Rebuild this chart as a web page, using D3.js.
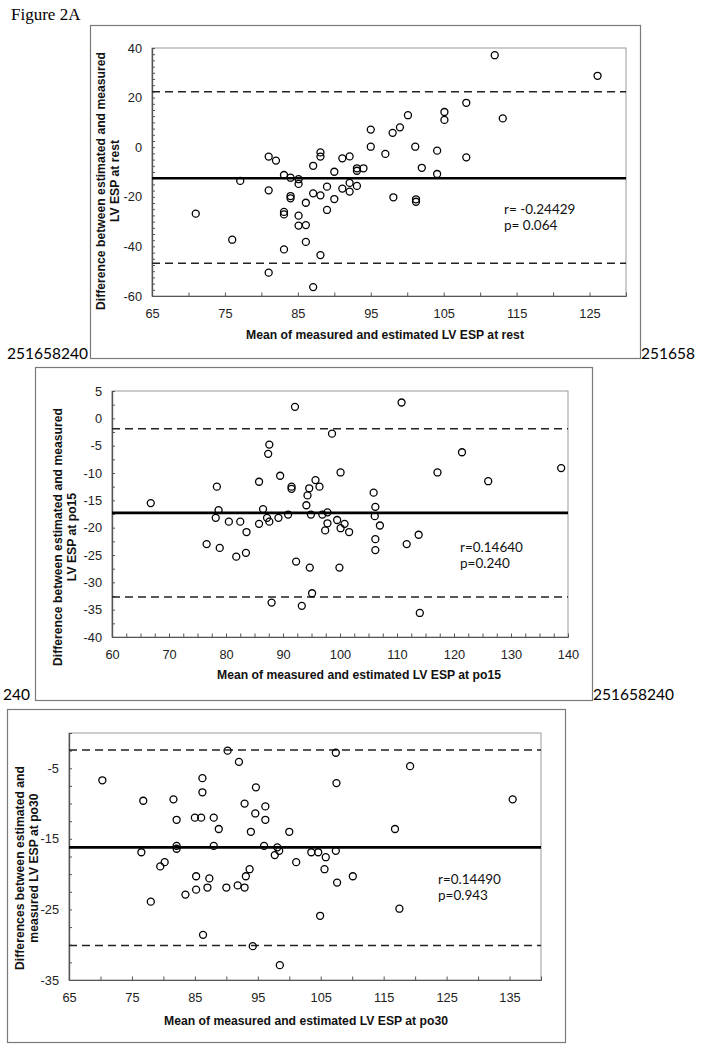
<!DOCTYPE html>
<html><head><meta charset="utf-8">
<script src="https://cdn.jsdelivr.net/npm/d3@7"></script>
<style>body{margin:0;background:#fff} svg{display:block}</style>
</head><body>
<svg id="c" width="711" height="1050"></svg>
<script>
// ---------- DATA ----------
// Panel A: at rest
const restX = [71.0,76.0,77.1,81.0,81.0,81.0,82.0,83.1,83.1,83.1,83.1,84.0,84.0,84.0,85.1,85.1,85.1,85.1,86.1,86.1,86.1,87.1,87.1,87.1,88.1,88.1,88.1,88.1,89.0,89.0,90.0,90.0,91.1,91.1,92.1,92.1,92.1,93.1,93.1,93.1,94.0,95.0,95.0,97.0,98.0,98.1,99.0,100.1,101.1,101.2,101.2,102.0,104.1,104.1,105.1,105.1,108.1,108.1,112.0,113.1,126.1];
const restY = [-26.8,-37.3,-13.6,-3.8,-17.4,-50.6,-5.4,-11.2,-26.1,-27.1,-41.2,-12.3,-19.7,-20.6,-12.9,-14.8,-27.6,-31.6,-22.4,-31.4,-38.2,-7.5,-18.6,-56.4,-2.1,-3.8,-19.4,-43.5,-15.9,-25.3,-9.9,-20.9,-4.5,-16.7,-3.7,-14.4,-17.9,-8.5,-9.5,-15.6,-8.5,7.1,0.2,-2.7,5.8,-20.2,8.0,12.9,0.2,-21.0,-22.0,-8.3,-1.4,-10.8,14.2,11.0,17.9,-4.1,37.1,11.6,28.8];
const restMean = -12.5, restUpper = 22.4, restLower = -46.8;
const restStats = ["r= -0.24429", "p= 0.064"];

// Panel B: po15
const po15X = [66.8,76.6,78.4,78.2,78.7,78.9,80.5,81.8,82.5,83.5,83.6,85.8,85.8,86.5,87.2,87.6,87.4,87.6,89.2,89.5,90.9,91.5,91.5,92.1,92.3,94.1,94.3,94.6,94.9,95.7,96.4,96.9,97.4,97.8,97.8,98.6,99.5,100.1,100.1,100.8,101.6,94.7,99.9,88.0,93.3,95.1,110.8,121.4,117.1,126.0,138.8,105.9,106.2,106.1,107.0,106.2,106.2,111.7,113.8,114.0];
const po15Y = [-15.5,-23.0,-12.5,-18.2,-16.8,-23.7,-18.9,-25.3,-18.9,-24.6,-20.8,-11.6,-19.3,-16.6,-18.2,-18.9,-6.5,-4.8,-18.2,-10.5,-17.6,-12.5,-12.9,2.1,-26.2,-15.9,-14.1,-12.8,-17.6,-11.3,-12.5,-17.6,-20.5,-17.2,-19.2,-2.8,-18.6,-20.1,-9.9,-19.3,-20.8,-27.3,-27.3,-33.7,-34.3,-32.0,2.9,-6.2,-9.9,-11.5,-9.1,-13.6,-16.2,-17.9,-19.6,-22.1,-24.1,-23.0,-21.3,-35.6];
const po15Mean = -17.3, po15Upper = -1.9, po15Lower = -32.7;
const po15Stats = ["r=0.14640", "p=0.240"];

// Panel C: po30
const po30X = [70.3,76.8,76.5,79.5,80.2,81.6,82.1,82.1,82.1,85.0,86.0,86.2,86.2,88.0,88.8,88.0,85.2,85.2,83.5,87.3,87.0,90.2,92.0,90.0,92.9,94.7,94.6,93.9,96.2,96.2,96.0,91.8,92.9,93.1,93.7,98.1,98.4,97.7,100.0,101.1,103.5,104.6,105.8,105.6,107.4,107.5,107.4,107.6,110.1,78.0,86.3,94.2,98.5,104.9,117.5,119.2,135.5,116.8];
const po30Y = [-6.7,-9.6,-16.9,-18.9,-18.3,-9.4,-12.3,-16.0,-16.4,-12.0,-12.0,-6.4,-8.4,-12.0,-13.6,-16.0,-20.3,-22.2,-22.9,-20.6,-21.9,-2.5,-4.1,-21.9,-10.0,-7.7,-11.4,-14.0,-10.4,-12.3,-16.0,-21.6,-21.9,-20.3,-19.3,-16.2,-16.7,-17.3,-14.0,-18.3,-16.9,-16.9,-17.6,-19.3,-2.8,-7.1,-16.7,-21.2,-20.3,-23.9,-28.6,-30.2,-32.9,-25.9,-24.9,-4.7,-9.4,-13.6];
const po30Mean = -16.2, po30Upper = -2.4, po30Lower = -30.1;
const po30Stats = ["r=0.14490", "p=0.943"];

// Tick labels
const restXTicks = [65,75,85,95,105,115,125];
const restYTicks = [-60,-40,-20,0,20,40];
const po15XTicks = [60,70,80,90,100,110,120,130,140];
const po15YTicks = [-40,-35,-30,-25,-20,-15,-10,-5,0,5];
const po30XTicks = [65,75,85,95,105,115,125,135];
const po30YTicks = [-35,-25,-15,-5];

// Axis titles
const restXTitle = "Mean of measured and estimated LV ESP at rest";
const restYTitle = ["Difference between estimated and measured", "LV ESP at rest"];
const po15XTitle = "Mean of measured and estimated LV ESP at po15";
const po15YTitle = ["Difference between estimated and measured", "LV ESP at po15"];
const po30XTitle = "Mean of measured and estimated LV ESP at po30";
const po30YTitle = ["Differences between estimated and", "measured LV ESP at po30"];

// ---------- LAYOUT ----------
const svg = d3.select("#c");
const panels = [
  {xs: restX, ys: restY, mean: restMean, up: restUpper, lo: restLower, stats: restStats,
   xT: restXTicks, yT: restYTicks, xTitle: restXTitle, yTitle: restYTitle,
   box: [90, 25, 640, 358], plot: [152, 48, 626, 296], xDom: [65, 130], yDom: [-60, 40],
   xMinor: 5, yMinor: 2.5, statPos: [504, 214], xTitlePos: [385, 339], yTitlePos: [101, 181]},
  {xs: po15X, ys: po15Y, mean: po15Mean, up: po15Upper, lo: po15Lower, stats: po15Stats,
   xT: po15XTicks, yT: po15YTicks, xTitle: po15XTitle, yTitle: po15YTitle,
   box: [35, 367, 592, 700], plot: [112, 391, 568, 637], xDom: [60, 140], yDom: [-40, 5],
   xMinor: 2.5, yMinor: 2.5, statPos: [460, 552], xTitlePos: [359, 679], yTitlePos: [58, 537]},
  {xs: po30X, ys: po30Y, mean: po30Mean, up: po30Upper, lo: po30Lower, stats: po30Stats,
   xT: po30XTicks, yT: po30YTicks, xTitle: po30XTitle, yTitle: po30YTitle,
   box: [7, 709, 565, 1042], plot: [69, 733, 541, 980], xDom: [65, 140], yDom: [-35, 0],
   xMinor: 5, yMinor: 2.5, statPos: [438, 884], xTitlePos: [306, 1025], yTitlePos: [20, 868]}
];

function range(a, b, s) { const r = []; for (let v = a; v <= b + 1e-9; v += s) r.push(+v.toFixed(4)); return r; }

panels.forEach(p => {
  const [bx0, by0, bx1, by1] = p.box;
  svg.append("rect").attr("x", bx0 + 0.5).attr("y", by0 + 0.5)
    .attr("width", bx1 - bx0).attr("height", by1 - by0)
    .attr("fill", "none").attr("stroke", "#7a7a7a").attr("stroke-width", 1.2);

  const [l, t, r, b] = p.plot;
  const x = d3.scaleLinear().domain(p.xDom).range([l, r]);
  const y = d3.scaleLinear().domain(p.yDom).range([b, t]);

  // plot frame
  svg.append("rect").attr("x", l).attr("y", t).attr("width", r - l).attr("height", b - t)
    .attr("fill", "none").attr("stroke", "#9a9a9a").attr("stroke-width", 1);

  // minor ticks
  const gxm = svg.append("g").attr("transform", `translate(0,${b})`)
    .call(d3.axisBottom(x).tickValues(range(p.xDom[0], p.xDom[1], p.xMinor)).tickSizeInner(-3.5).tickSizeOuter(0).tickFormat(""));
  const gym = svg.append("g").attr("transform", `translate(${l},0)`)
    .call(d3.axisLeft(y).tickValues(range(p.yDom[0], p.yDom[1], p.yMinor)).tickSizeInner(-3).tickSizeOuter(0).tickFormat(""));
  // labelled ticks
  const gx = svg.append("g").attr("transform", `translate(0,${b})`)
    .call(d3.axisBottom(x).tickValues(p.xT).tickSizeInner(0).tickSizeOuter(0).tickPadding(13).tickFormat(d3.format("d")));
  const gy = svg.append("g").attr("transform", `translate(${l},0)`)
    .call(d3.axisLeft(y).tickValues(p.yT).tickSizeInner(0).tickSizeOuter(0).tickPadding(10).tickFormat(d3.format("d")));
  [gxm, gym, gx, gy].forEach(g => {
    g.select(".domain").attr("stroke", "#555").attr("stroke-width", 1.2);
    g.selectAll(".tick line").attr("stroke", "#555").attr("stroke-width", 1);
    g.selectAll("text").attr("font-family", "Liberation Sans, Arial, sans-serif")
      .attr("font-size", 12.8).attr("fill", "#222");
  });
  gy.selectAll("text").text(d => d < 0 ? "-" + Math.abs(d) : d);

  // reference lines
  svg.append("line").attr("x1", l).attr("x2", r).attr("y1", y(p.mean)).attr("y2", y(p.mean))
    .attr("stroke", "#000").attr("stroke-width", 2.6);
  [p.up, p.lo].forEach(v => {
    svg.append("line").attr("x1", l).attr("x2", r).attr("y1", y(v)).attr("y2", y(v))
      .attr("stroke", "#222").attr("stroke-width", 1.5).attr("stroke-dasharray", "8,5");
  });

  // points
  svg.append("g").selectAll("circle").data(p.xs.map((v, i) => [v, p.ys[i]])).join("circle")
    .attr("cx", d => x(d[0])).attr("cy", d => y(d[1])).attr("r", 3.5)
    .attr("fill", "none").attr("stroke", "#000").attr("stroke-width", 1.3);

  // stats
  p.stats.forEach((s, i) => {
    svg.append("text").attr("x", p.statPos[0]).attr("y", p.statPos[1] + i * 16)
      .attr("font-family", "Lato, 'Open Sans', sans-serif").attr("font-size", 13.5).attr("fill", "#111").text(s);
  });

  // axis titles
  svg.append("text").attr("x", p.xTitlePos[0]).attr("y", p.xTitlePos[1]).attr("text-anchor", "middle")
    .attr("font-family", "Liberation Sans, Arial, sans-serif").attr("font-weight", "bold")
    .attr("font-size", 12.2).attr("fill", "#111").text(p.xTitle);
  p.yTitle.forEach((s, i) => {
    const cx = p.yTitlePos[0] + i * 14, cy = p.yTitlePos[1];
    svg.append("text").attr("transform", `translate(${cx},${cy}) rotate(-90)`)
      .attr("text-anchor", "middle").attr("dy", "0.35em")
      .attr("font-family", "Liberation Sans, Arial, sans-serif").attr("font-weight", "bold")
      .attr("font-size", 12.2).attr("fill", "#111").text(s);
  });
});

// captions / stray numbers
svg.append("text").attr("x", 11).attr("y", 20).attr("font-family", "Liberation Serif, 'Times New Roman', serif")
  .attr("font-size", 17).attr("fill", "#000").text("Figure 2A");
const stray = [["251658240", 7, 359], ["251658", 641, 359], ["240", 3, 700], ["251658240", 593, 700]];
stray.forEach(([s, sx, sy]) => {
  svg.append("text").attr("x", sx).attr("y", sy).attr("font-family", "Lato, 'Open Sans', sans-serif")
    .attr("font-size", 15.5).attr("fill", "#000").text(s);
});
</script>
</body></html>
